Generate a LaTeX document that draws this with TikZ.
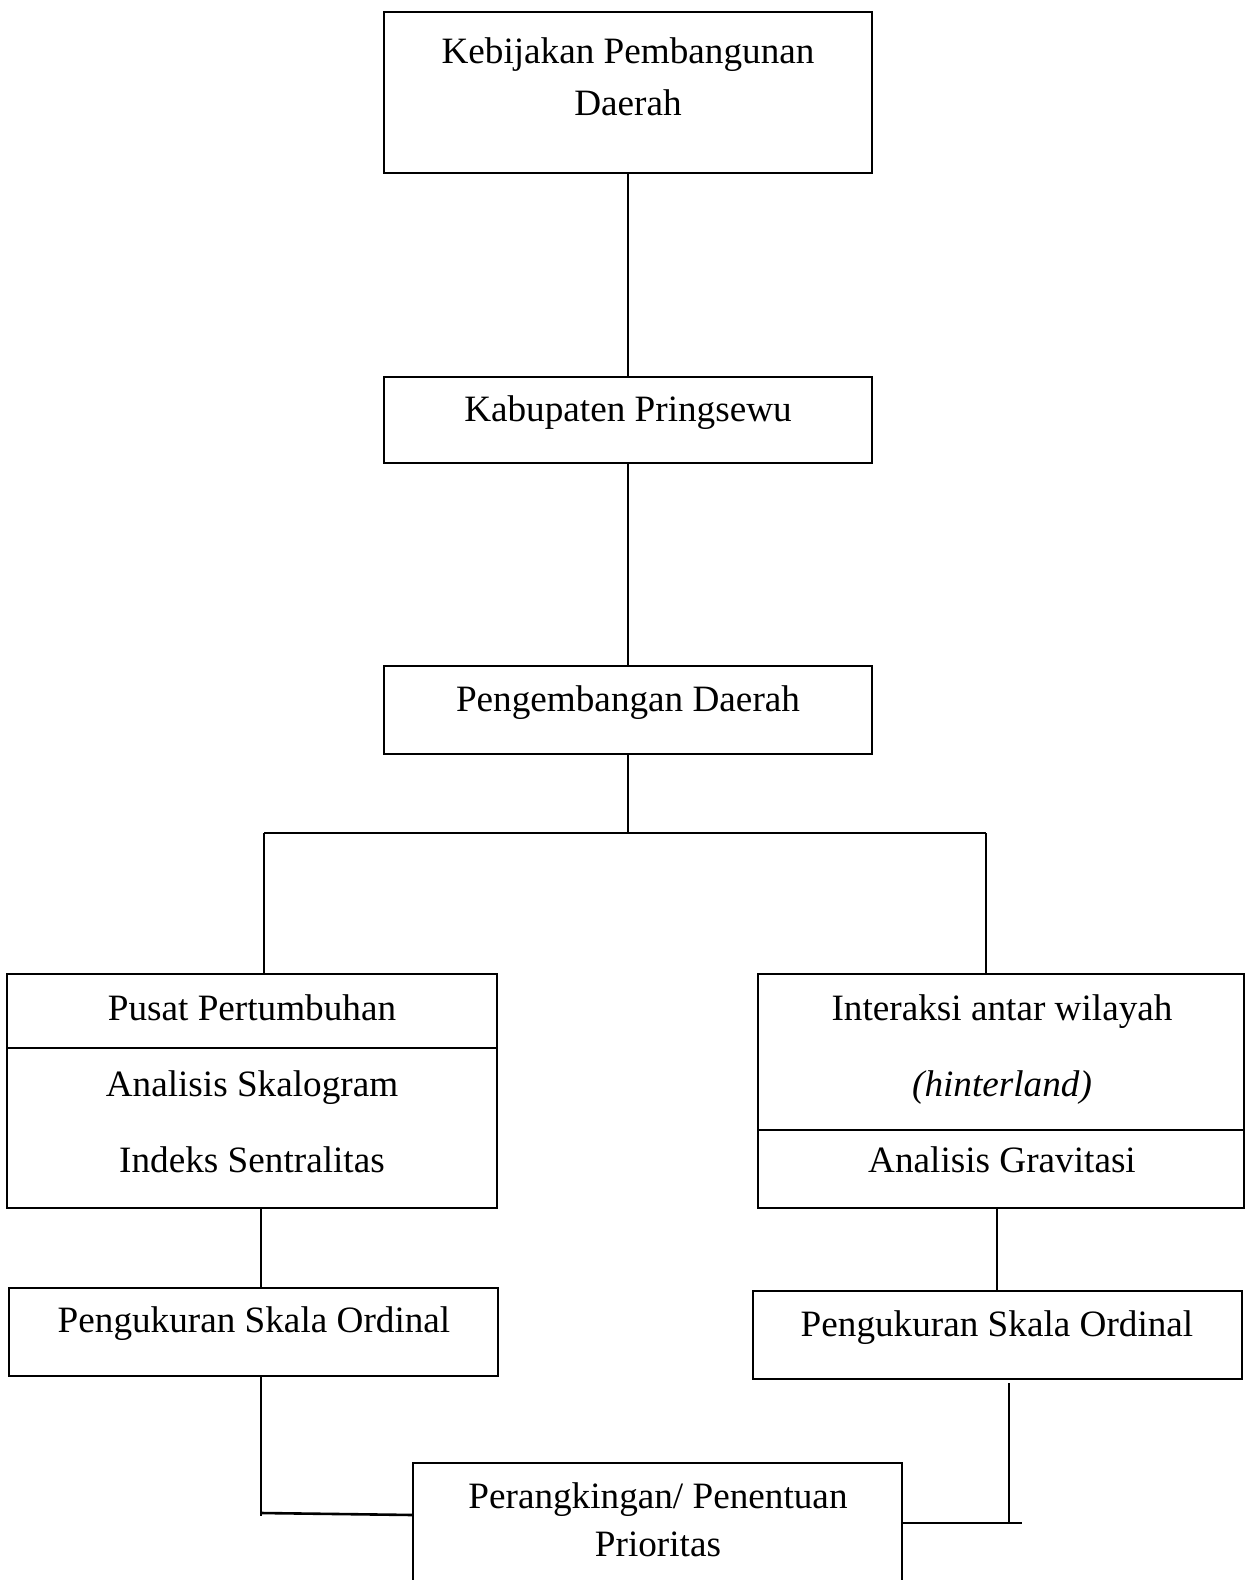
\documentclass[tikz,border=0pt]{standalone}
\usepackage{fontspec}
\setmainfont{Liberation Serif}
\usetikzlibrary{fit}
\begin{document}
\begin{tikzpicture}[x=0.5pt,y=-0.5pt,
  box/.style={draw, line width=1pt, inner sep=0pt},
  txt/.style={anchor=base, inner sep=0pt, font=\fontsize{18.6}{22}\selectfont},
  conn/.style={line width=1pt},
  thickconn/.style={line width=1.3pt}]
\useasboundingbox (0,0) rectangle (1245,1580);
% boxes
\node[box, fit={(384,12) (872,173)}] (top) {};
\node[box, fit={(384,377) (872,463)}] (kab) {};
\node[box, fit={(384,666) (872,754)}] (peng) {};
\node[box, fit={(7,974) (497,1208)}] (pusat) {};
\node[box, fit={(758,974) (1244,1208)}] (inter) {};
\node[box, fit={(9,1288) (498,1376)}] (ordL) {};
\node[box, fit={(753,1291) (1242,1379)}] (ordR) {};
\node[box, fit={(413,1463) (902,1620)}] (prio) {};
% dividers
\coordinate (dL) at (0,1048);
\coordinate (dR) at (0,1130);
\draw[conn] (pusat.west |- dL) -- (pusat.east |- dL);
\draw[conn] (inter.west |- dR) -- (inter.east |- dR);
% texts
\node[txt] (t1a) at (628,63) {Kebijakan Pembangunan};
\node[txt] (t1b) at (628,115) {Daerah};
\node[txt] (t2) at (628,421) {Kabupaten Pringsewu};
\node[txt] (t3) at (628,711) {Pengembangan Daerah};
\node[txt] (t4a) at (252,1020) {Pusat Pertumbuhan};
\node[txt] (t4b) at (252,1096) {Analisis Skalogram};
\node[txt] (t4c) at (252,1172) {Indeks Sentralitas};
\node[txt] (t5a) at (1002,1020) {Interaksi antar wilayah};
\node[txt] (t5b) at (1002,1096) {\itshape (hinterland)};
\node[txt] (t5c) at (1002,1172) {Analisis Gravitasi};
\node[txt] (t6) at (254,1332) {Pengukuran Skala Ordinal};
\node[txt] (t7) at (997,1336) {Pengukuran Skala Ordinal};
\node[txt] (t8a) at (658,1508) {Perangkingan/ Penentuan};
\node[txt] (t8b) at (658,1556) {Prioritas};
% connectors
\draw[conn] (top.south) -- (kab.north);
\draw[conn] (kab.south) -- (peng.north);
\coordinate (br) at (628,833);
\coordinate (bl) at (264,833);
\coordinate (brr) at (986,833);
\draw[conn] (peng.south) -- (br);
\draw[conn] (bl) -- (brr);
\draw[conn] (bl) -- (bl |- pusat.north);
\draw[conn] (brr) -- (brr |- inter.north);
\coordinate (cL) at (261,0);
\coordinate (cR) at (997,0);
\draw[conn] (cL |- pusat.south) -- (cL |- ordL.north);
\draw[conn] (cR |- inter.south) -- (cR |- ordR.north);
% bottom connections
\coordinate (lEnd) at (261,1516);
\coordinate (lCorner) at (261,1513);
\coordinate (lJoin) at (413,1515);
\draw[conn] (cL |- ordL.south) -- (lEnd);
\draw[thickconn] (lCorner) -- (lJoin);
\coordinate (rTop) at (1009,1383);
\coordinate (rBot) at (1009,1523);
\coordinate (rJoin) at (902,1523);
\coordinate (rEnd) at (1022,1523);
\draw[conn] (rTop) -- (rBot);
\draw[thickconn] (rJoin) -- (rEnd);
\end{tikzpicture}
\end{document}
